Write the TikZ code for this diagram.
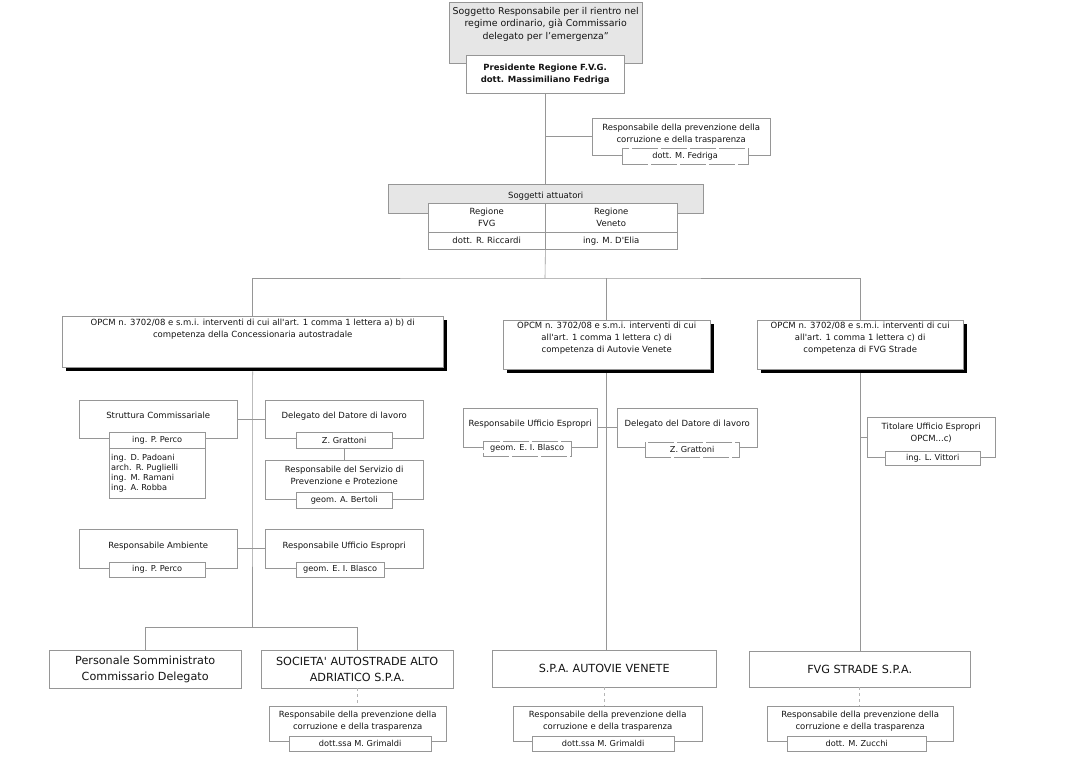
\documentclass[tikz,border=0pt]{standalone}
\usepackage{fontspec}
\setmainfont{DejaVu Sans}[Ligatures=TeXOff]
\usetikzlibrary{
  positioning,
  shadows
}
\definecolor{linegray}{RGB}{150,150,150}
\definecolor{boxgray}{RGB}{230,230,230}
\definecolor{txtgray}{RGB}{20,20,20}
\newcommand{\fsSmall}{\fontsize{8.2}{10}\selectfont}
\newcommand{\fsNorm}{\fontsize{8.5}{12}\selectfont}
\newcommand{\fsTop}{\fontsize{9.4}{12.5}\selectfont}
\newcommand{\fsBig}{\fontsize{11.2}{15.5}\selectfont}

\begin{document}
\begin{tikzpicture}[x=1pt, y=-1pt,
  box/.style={draw=linegray, fill=white, anchor=north west, align=center,
    inner sep=1pt, font=\fsNorm, text=txtgray},
  graybox/.style={box, fill=boxgray},
  subbox/.style={box, font=\fsSmall},
  brokenbox/.style={subbox, dash pattern=on 26pt off 3pt},
  shadowbox/.style={box, drop shadow={shadow xshift=4pt, shadow yshift=-4pt,
    fill=black, opacity=1}},
  bigbox/.style={box, font=\fsBig},
  txt/.style={align=center, inner sep=0pt, font=\fsNorm, text=txtgray},
  link/.style={draw=linegray, line width=0.6pt},
  dlink/.style={draw=linegray!70, line width=0.6pt, dash pattern=on 3pt off 3pt}]
  \useasboundingbox (0,0) rectangle (1071,777);
  \def\Ybus{278};
  \def\Ylow{627};

  % vertice
  \node[graybox, minimum width=193pt, minimum height=61pt] (sogg) at (449,2) {};
  \node[txt, font=\fsTop, below=5pt of sogg.north] (soggT)
    {Soggetto Responsabile per il rientro nel\\regime ordinario, già Commissario\\delegato per l’emergenza”};
  \node[box, minimum width=158pt, minimum height=38pt] (pres) at (466,55)
    {\textbf{Presidente Regione F.V.G.}\\\textbf{dott. Massimiliano Fedriga}};

  \node[box, minimum width=178pt, minimum height=37pt] (rpct1) at (592,118)
    {Responsabile della prevenzione della\\corruzione e della trasparenza\\[-5pt]};
  \node[brokenbox, minimum width=126pt, minimum height=16pt] (fed) at (622,148) {dott. M. Fedriga};

  % soggetti attuatori
  \node[graybox, minimum width=315pt, minimum height=29pt] (satt) at (388,184) {};
  \node[txt, below=8pt of satt.north] (sattT) {Soggetti attuatori};
  \node[box, minimum width=117pt, minimum height=29pt] (fvg) at (428,203) {Regione\\FVG};
  \node[box, minimum width=132pt, minimum height=29pt] (ven) at (545,203) {Regione\\Veneto};
  \node[box, minimum width=117pt, minimum height=17pt] (fvgp) at (428,232) {dott. R. Riccardi};
  \node[box, minimum width=132pt, minimum height=17pt] (venp) at (545,232) {ing. M. D'Elia};

  % OPCM
  \node[shadowbox, minimum width=381pt, minimum height=51pt] (opcmA) at (62,316) {};
  \node[txt, below=3pt of opcmA.north] (opcmAT)
    {OPCM n. 3702/08 e s.m.i. interventi di cui all'art. 1 comma 1 lettera a) b) di\\competenza della Concessionaria autostradale};
  \node[shadowbox, minimum width=207pt, minimum height=49pt] (opcmB) at (503,320) {};
  \node[txt, below=2pt of opcmB.north] (opcmBT)
    {OPCM n. 3702/08 e s.m.i. interventi di cui\\all'art. 1 comma 1 lettera c) di\\competenza di Autovie Venete};
  \node[shadowbox, minimum width=206pt, minimum height=49pt] (opcmC) at (757,320) {};
  \node[txt, below=2pt of opcmC.north] (opcmCT)
    {OPCM n. 3702/08 e s.m.i. interventi di cui\\all'art. 1 comma 1 lettera c) di\\competenza di FVG Strade};

  % colonna concessionaria
  \node[box, minimum width=158pt, minimum height=38pt] (strut) at (79,400) {Struttura Commissariale\\[-5pt]};
  \node[subbox, minimum width=96pt, minimum height=16pt] (perco1) at (109,432) {ing. P. Perco};
  \node[subbox, align=left, text width=92pt, inner xsep=2pt, minimum height=50pt] (nomi) at (109,448)
    {ing. D. Padoani\\arch. R. Puglielli\\ing. M. Ramani\\ing. A. Robba};
  \node[box, minimum width=158pt, minimum height=38pt] (deleg) at (265,400) {Delegato del Datore di lavoro\\[-5pt]};
  \node[subbox, minimum width=96pt, minimum height=16pt] (grat1) at (296,432) {Z. Grattoni};
  \node[box, minimum width=158pt, minimum height=39pt] (rspp) at (265,460)
    {Responsabile del Servizio di\\Prevenzione e Protezione\\[-4pt]};
  \node[subbox, minimum width=96pt, minimum height=16pt] (bert) at (296,492) {geom. A. Bertoli};
  \node[box, minimum width=158pt, minimum height=39pt] (ramb) at (79,529) {Responsabile Ambiente\\[-5pt]};
  \node[subbox, minimum width=96pt, minimum height=15pt] (perco2) at (109,562) {ing. P. Perco};
  \node[box, minimum width=158pt, minimum height=39pt] (rue1) at (265,529) {Responsabile Ufficio Espropri\\[-5pt]};
  \node[subbox, minimum width=88pt, minimum height=15pt] (bla1) at (296,562) {geom. E. I. Blasco};

  \node[bigbox, minimum width=192pt, minimum height=38pt] (pers) at (49,650)
    {Personale Somministrato\\Commissario Delegato};
  \node[bigbox, minimum width=192pt, minimum height=38pt] (saa) at (261,650)
    {SOCIETA' AUTOSTRADE ALTO\\ADRIATICO S.P.A.};
  \node[box, minimum width=177pt, minimum height=35pt] (rpct2) at (269,706)
    {Responsabile della prevenzione della\\corruzione e della trasparenza\\[-6pt]};
  \node[subbox, minimum width=142pt, minimum height=15pt] (grim1) at (289,736) {dott.ssa M. Grimaldi};

  % colonna Autovie Venete
  \node[box, minimum width=134pt, minimum height=39pt] (rue2) at (463,408) {Responsabile Ufficio Espropri\\[-4pt]};
  \node[brokenbox, minimum width=88pt, minimum height=15pt] (bla2) at (483,441) {geom. E. I. Blasco};
  \node[box, minimum width=140pt, minimum height=39pt] (del2) at (617,408) {Delegato del Datore di lavoro\\[-4pt]};
  \node[brokenbox, minimum width=94pt, minimum height=15pt] (grat2) at (645,442) {Z. Grattoni};
  \node[bigbox, minimum width=224pt, minimum height=37pt] (spaav) at (492,650) {S.P.A. AUTOVIE VENETE};
  \node[box, minimum width=189pt, minimum height=35pt] (rpct3) at (513,706)
    {Responsabile della prevenzione della\\corruzione e della trasparenza\\[-6pt]};
  \node[subbox, minimum width=142pt, minimum height=15pt] (grim2) at (532,736) {dott.ssa M. Grimaldi};

  % colonna FVG Strade
  \node[box, minimum width=128pt, minimum height=40pt] (tit) at (867,417)
    {Titolare Ufficio Espropri\\OPCM...c)\\[-2pt]};
  \node[subbox, minimum width=95pt, minimum height=14pt] (vit) at (885,451) {ing. L. Vittori};
  \node[bigbox, minimum width=221pt, minimum height=36pt] (fvgs) at (749,651) {FVG STRADE S.P.A.};
  \node[box, minimum width=186pt, minimum height=35pt] (rpct4) at (767,706)
    {Responsabile della prevenzione della\\corruzione e della trasparenza\\[-6pt]};
  \node[subbox, minimum width=139pt, minimum height=15pt] (zuc) at (787,736) {dott. M. Zucchi};

  % collegamenti
  \coordinate (busT) at (545,\Ybus);
  \coordinate (busL) at (252.5,\Ylow);
  \draw[link] (pres.south) -- (pres.south |- satt.north);
  \draw[link] (rpct1.west) -- (rpct1.west -| pres.south);
  \draw[link] (fvgp.south east) -- (busT);
  \draw[link] (opcmA.north) |- (busT) -| (opcmC.north);
  \draw[link] (opcmB.north) -- (opcmB.north |- busT);

  \draw[link] ([yshift=-4pt]opcmA.south) -- (busL);
  \draw[link] (pers.north) |- (saa.north |- busL) -- (saa.north);
  \draw[link] (strut.east) -- (deleg.west);
  \draw[link] (grat1.south) -- (rspp.north);
  \draw[link] (ramb.east) -- (rue1.west);
  \draw[dlink] (saa.south) -- (saa.south |- rpct2.north);

  \draw[link] ([yshift=-4pt]opcmB.south) -- (opcmB.south |- spaav.north);
  \draw[link] (rue2.east) -- (del2.west);
  \draw[dlink] (spaav.south) -- (spaav.south |- rpct3.north);

  \draw[link] ([yshift=-4pt]opcmC.south) -- (opcmC.south |- fvgs.north);
  \draw[link] (tit.west) -- (tit.west -| opcmC.south);
  \draw[dlink] (fvgs.south) -- (fvgs.south |- rpct4.north);
\end{tikzpicture}
\end{document}
